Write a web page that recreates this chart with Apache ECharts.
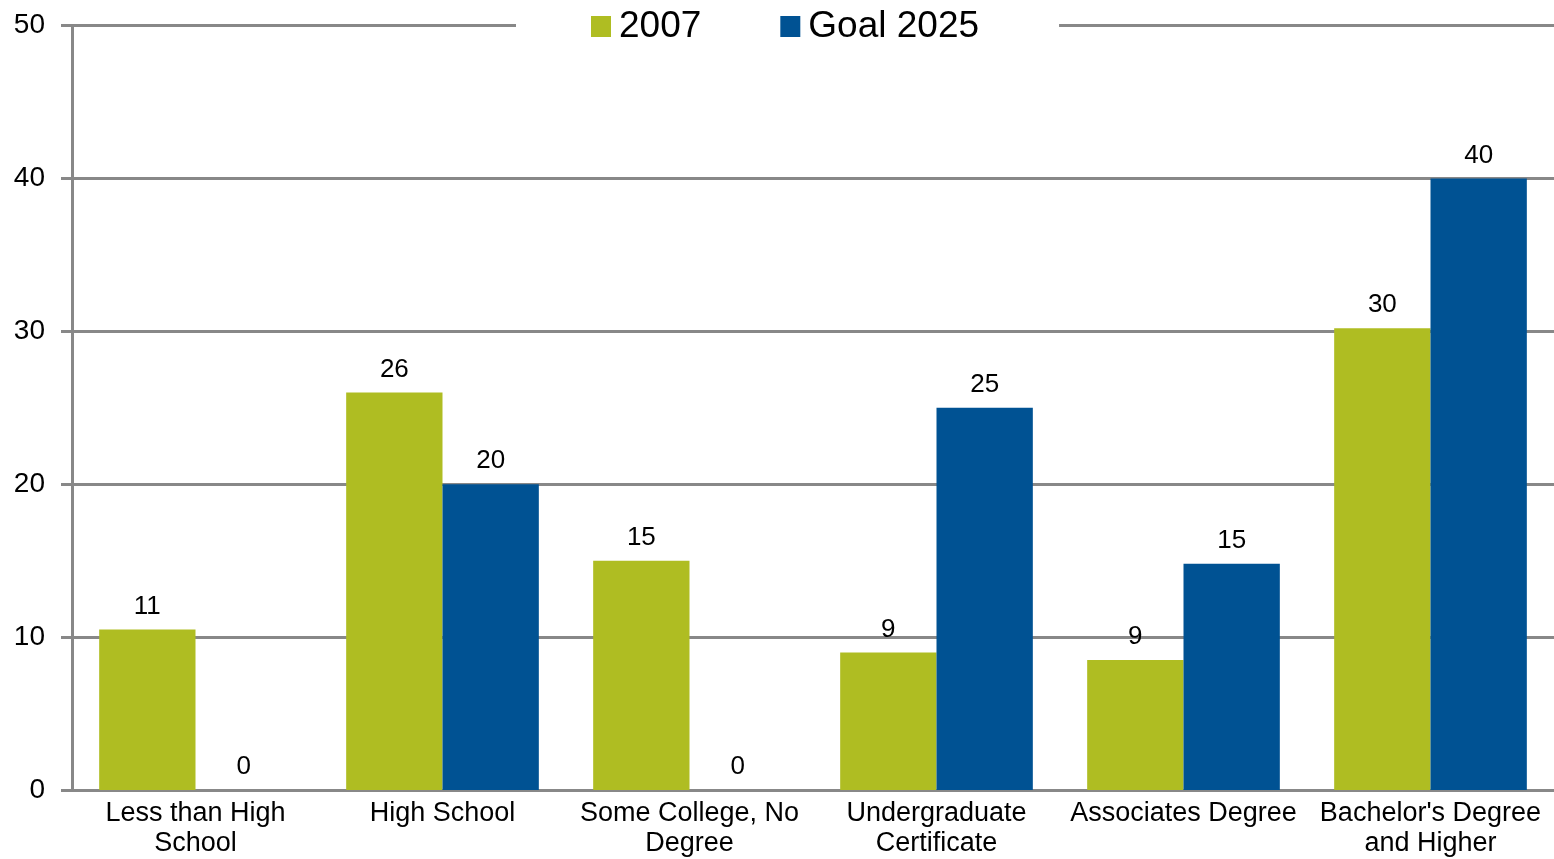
<!DOCTYPE html>
<html>
<head>
<meta charset="utf-8">
<title>2007 vs Goal 2025</title>
<script src="https://cdn.jsdelivr.net/npm/echarts@6/dist/echarts.min.js"></script>
<style>
    html, body { margin: 0; padding: 0; background: #fff; }
    #main { width: 1554px; height: 859px; }
</style>
</head>
<body>
<div id="main"></div>
<script>
    // 数据
    var categories = ['Less than High\nSchool', 'High School', 'Some College, No\nDegree', 'Undergraduate\nCertificate', 'Associates Degree', "Bachelor's Degree\nand Higher"];
    var values2007 = [10.5, 26, 15, 9, 8.5, 30.2];
    var valuesGoal = [0, 20, 0, 25, 14.8, 40];
    var yMin = 0, yMax = 50, yStep = 10;

    var font = 'Arial, "Liberation Sans", sans-serif';
    var gray = '#888888';

    var myChart = echarts.init(document.getElementById('main'));

    var barLabel = {
        show: true,
        position: 'top',
        distance: 10,
        color: '#000',
        fontFamily: font,
        fontSize: 26,
        formatter: function (p) { return Math.round(p.value); }
    };

    var option = {
        animation: false,
        textStyle: { fontFamily: font },
        legend: {
            left: 516,
            top: 8,
            padding: [0, 80, 0, 75],
            backgroundColor: '#fff',
            itemWidth: 20,
            itemHeight: 21,
            itemGap: 79,
            icon: 'rect',
            textStyle: { fontSize: 37, color: '#000', fontFamily: font, padding: [0, 0, 0, 3] },
            data: ['2007', 'Goal 2025']
        },
        grid: { left: 72, right: 0, top: 25.5, bottom: 67 },
        xAxis: {
            type: 'category',
            data: categories,
            axisLine: { lineStyle: { color: gray, width: 3 } },
            axisTick: { length: 12, lineStyle: { color: gray, width: 3 } },
            axisLabel: { color: '#000', fontSize: 27, lineHeight: 30, margin: 9, interval: 0, fontFamily: font }
        },
        yAxis: {
            type: 'value',
            min: yMin,
            max: yMax,
            interval: yStep,
            axisLine: { show: true, lineStyle: { color: gray, width: 3 } },
            axisTick: { show: true, length: 11, lineStyle: { color: gray, width: 3 } },
            axisLabel: { color: '#000', fontSize: 28, margin: 27, fontFamily: font },
            splitLine: { lineStyle: { color: gray, width: 3 } }
        },
        series: [{
            name: '2007',
            type: 'bar',
            data: values2007,
            barGap: 0,
            barCategoryGap: '22%',
            itemStyle: { color: '#afbd22' },
            label: barLabel
        }, {
            name: 'Goal 2025',
            type: 'bar',
            data: valuesGoal,
            itemStyle: { color: '#005293' },
            label: barLabel
        }]
    };

    myChart.setOption(option);
</script>
</body>
</html>
